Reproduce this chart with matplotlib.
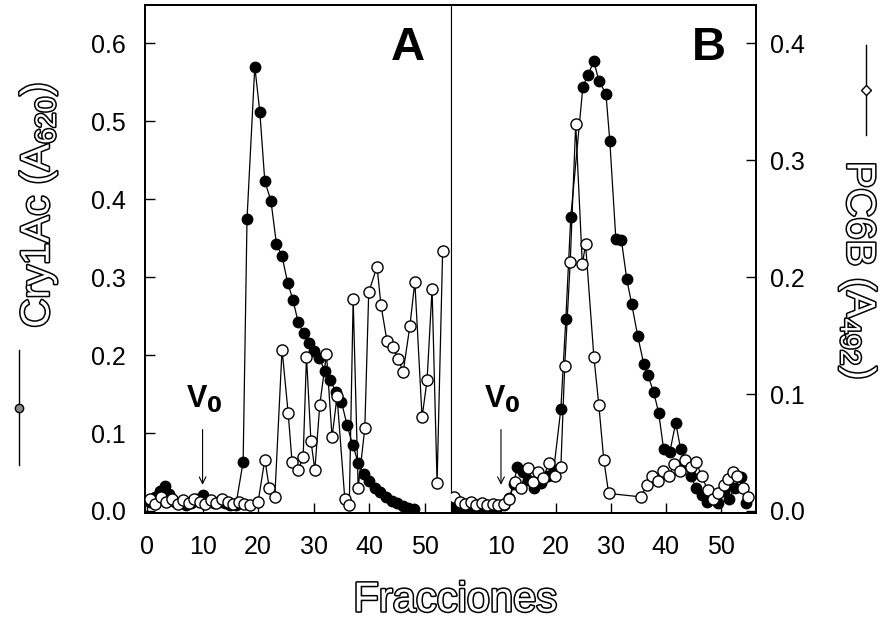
import matplotlib
matplotlib.use("Agg")
import matplotlib.pyplot as plt
import matplotlib.patheffects as pe
from matplotlib.lines import Line2D

plt.rcParams["font.family"] = ["Liberation Sans", "DejaVu Sans"]
plt.rcParams["mathtext.fontset"] = "custom"
plt.rcParams["mathtext.rm"] = "Liberation Sans"
plt.rcParams["mathtext.it"] = "Liberation Sans"

# ── Panel A: Cry1Ac (filled, left axis) ────────────────────────────────────
a_cry_x = [0.5, 1.5, 2.3, 3.2, 4.0, 5.0, 6.0, 7.0, 8.0, 9.0, 10.0, 11.0, 12.0,
           13.0, 14.0, 15.0, 16.0, 17.3, 18.0, 19.4, 20.3, 21.2, 22.3, 23.3,
           24.3, 25.3, 26.3, 27.2, 28.2, 29.2, 30.1, 31.0, 32.0, 33.0, 34.0,
           35.0, 36.0, 37.0, 38.0, 39.0, 40.0, 41.0, 42.0, 43.0, 44.0, 45.0,
           46.0, 47.0, 48.0]
a_cry_y = [0.012, 0.018, 0.025, 0.032, 0.022, 0.012, 0.010, 0.008, 0.010,
           0.015, 0.020, 0.013, 0.010, 0.012, 0.010, 0.008, 0.008, 0.063,
           0.375, 0.570, 0.512, 0.423, 0.398, 0.342, 0.327, 0.293, 0.270,
           0.242, 0.228, 0.216, 0.205, 0.196, 0.180, 0.168, 0.152, 0.140,
           0.110, 0.085, 0.062, 0.048, 0.038, 0.030, 0.024, 0.018, 0.013,
           0.010, 0.007, 0.004, 0.002]

# ── Panel A: PC6B (open, right axis) ───────────────────────────────────────
a_pc_x = [0.5, 1.5, 2.5, 3.5, 4.5, 5.5, 6.5, 7.5, 8.5, 9.5, 10.5, 11.5, 12.5,
          13.5, 14.5, 15.5, 16.5, 17.5, 18.5, 20.0, 21.2, 22.0, 23.0, 24.3,
          25.4, 26.1, 27.2, 28.1, 28.7, 29.5, 30.2, 31.1, 32.3, 33.3, 34.2,
          35.6, 36.4, 37.1, 38.0, 39.2, 39.9, 41.4, 42.1, 43.2, 44.3, 45.2,
          46.1, 47.3, 48.2, 49.5, 50.4, 51.3, 52.2, 53.2]
a_pc_y = [0.010, 0.006, 0.012, 0.008, 0.010, 0.006, 0.009, 0.007, 0.010,
          0.008, 0.006, 0.009, 0.007, 0.010, 0.008, 0.006, 0.008, 0.006,
          0.005, 0.008, 0.044, 0.020, 0.012, 0.138, 0.084, 0.042, 0.035,
          0.046, 0.132, 0.060, 0.035, 0.091, 0.134, 0.063, 0.098, 0.010,
          0.005, 0.181, 0.020, 0.071, 0.187, 0.209, 0.176, 0.145, 0.140,
          0.130, 0.119, 0.158, 0.196, 0.080, 0.112, 0.190, 0.024, 0.222]

# ── Panel B: Cry1Ac (filled, left axis) ────────────────────────────────────
b_cry_x = [1.5, 2.5, 3.5, 4.5, 5.5, 6.5, 7.5, 8.5, 9.5, 10.5, 11.5, 12.3,
           13.0, 14.0, 15.0, 16.0, 17.3, 18.5, 19.6, 20.9, 21.8, 22.7, 24.9,
           25.8, 26.9, 27.8, 29.1, 29.8, 30.9, 31.9, 32.9, 33.8, 34.9, 36.0,
           36.7, 37.8, 38.7, 39.6, 40.7, 41.8, 42.7, 43.5, 44.5, 45.5, 46.5,
           47.5, 48.5, 49.5, 50.5, 51.5, 52.5, 53.6, 54.5]
b_cry_y = [0.004, 0.006, 0.003, 0.005, 0.004, 0.006, 0.004, 0.005, 0.006,
           0.008, 0.017, 0.035, 0.057, 0.050, 0.040, 0.030, 0.036, 0.045,
           0.053, 0.131, 0.246, 0.377, 0.544, 0.559, 0.577, 0.552, 0.535,
           0.475, 0.349, 0.348, 0.297, 0.265, 0.224, 0.188, 0.175, 0.152,
           0.126, 0.079, 0.075, 0.113, 0.079, 0.060, 0.045, 0.030, 0.020,
           0.012, 0.018, 0.010, 0.025, 0.015, 0.030, 0.044, 0.010]

# ── Panel B: PC6B (open, right axis) ───────────────────────────────────────
b_pc_x = [1.5, 2.5, 3.5, 4.5, 5.5, 6.5, 7.5, 8.5, 9.5, 10.5, 11.5, 12.5,
          13.6, 14.9, 15.8, 16.7, 17.7, 18.7, 19.8, 20.9, 21.6, 22.6, 23.6,
          24.8, 25.4, 26.9, 27.8, 28.7, 29.6, 35.5, 36.5, 37.5, 38.5, 39.5,
          40.5, 41.5, 42.5, 43.5, 44.5, 45.5, 46.5, 47.6, 48.5, 49.5, 50.5,
          51.3, 52.2, 53.0, 54.0, 55.0]
b_pc_y = [0.012, 0.008, 0.006, 0.008, 0.005, 0.007, 0.005, 0.006, 0.005,
          0.006, 0.010, 0.025, 0.020, 0.037, 0.025, 0.033, 0.028, 0.041,
          0.030, 0.038, 0.124, 0.213, 0.331, 0.211, 0.228, 0.132, 0.091,
          0.044, 0.015, 0.012, 0.022, 0.030, 0.026, 0.034, 0.030, 0.040,
          0.034, 0.044, 0.038, 0.042, 0.030, 0.018, 0.010, 0.015, 0.022,
          0.027, 0.033, 0.030, 0.020, 0.012]

left_ticks = [0.0, 0.1, 0.2, 0.3, 0.4, 0.5, 0.6]
right_ticks = [0.0, 0.1, 0.2, 0.3, 0.4]
a_xticks = [0, 10, 20, 30, 40, 50]
b_xticks = [10, 20, 30, 40, 50]
v0_frac = 10

LEFT_LIM = (-0.0026, 0.649)
RIGHT_LIM = (LEFT_LIM[0] * 2 / 3, LEFT_LIM[1] * 2 / 3)

fig = plt.figure(figsize=(8.82, 6.24), dpi=100)
ax_a = fig.add_axes([0.1644, 0.1779, 0.3469, 0.8141])
ax_b = fig.add_axes([0.5113, 0.1779, 0.3458, 0.8141])
ax_a2 = ax_a.twinx()
ax_b2 = ax_b.twinx()

filled = dict(color="black", lw=0.9, marker="o", ms=7.5, mfc="black", mec="black")
hollow = dict(color="black", lw=0.9, marker="o", ms=8, mfc="white", mec="black", mew=1.0)

ax_a.plot(a_cry_x, a_cry_y, **filled, zorder=3)
ax_a2.plot(a_pc_x, a_pc_y, **hollow, zorder=4)
ax_b.plot(b_cry_x, b_cry_y, **filled, zorder=3)
ax_b2.plot(b_pc_x, b_pc_y, **hollow, zorder=4)

for ax in (ax_a, ax_a2):
    ax.set_xlim(-0.36, 54.7)
for ax in (ax_b, ax_b2):
    ax.set_xlim(0.9, 56.4)
for ax in (ax_a, ax_b):
    ax.set_ylim(*LEFT_LIM)
for ax in (ax_a2, ax_b2):
    ax.set_ylim(*RIGHT_LIM)

tick_kw = dict(direction="in", length=7, width=1.0, labelsize=18)
ax_a.set_yticks(left_ticks)
ax_a.set_yticklabels([f"{t:.1f}" for t in left_ticks])
ax_a.tick_params(axis="y", pad=14, **tick_kw)
ax_a.set_xticks(a_xticks)
ax_a.tick_params(axis="x", pad=16, **tick_kw)
ax_a2.set_yticks([])
ax_b.set_yticks([])
ax_b.set_xticks(b_xticks)
ax_b.tick_params(axis="x", pad=16, **tick_kw)
ax_b2.set_yticks(right_ticks)
ax_b2.set_yticklabels([f"{t:.1f}" for t in right_ticks])
ax_b2.tick_params(axis="y", pad=10, **tick_kw)

for ax in (ax_a, ax_a2, ax_b, ax_b2):
    for s in ax.spines.values():
        s.set_linewidth(1.3)
ax_a.spines["right"].set_linewidth(0.8)
ax_a2.spines["right"].set_linewidth(0.8)
ax_b.spines["left"].set_visible(False)
ax_b2.spines["left"].set_visible(False)

# panel letters
ax_a.text(0.86, 0.915, "A", transform=ax_a.transAxes, fontsize=34,
          fontweight="bold", ha="center", va="center")
ax_b.text(0.845, 0.915, "B", transform=ax_b.transAxes, fontsize=34,
          fontweight="bold", ha="center", va="center")

# V0 markers
for ax in (ax_a, ax_b):
    ax.text(v0_frac + 0.3, 0.143, r"V$_\mathbf{0}$", fontsize=22, fontweight="bold",
            ha="center", va="center")
    ax.annotate("", xy=(v0_frac, 0.030), xytext=(v0_frac, 0.108),
                arrowprops=dict(arrowstyle="->", lw=0.8, color="black",
                                mutation_scale=12))

# outlined axis titles
outline = [pe.withStroke(linewidth=2.2, foreground="black")]
fig.text(0.516, 0.038, "Fracciones", fontsize=30, color="white",
         ha="center", va="center", path_effects=outline)
fig.text(0.043, 0.671, r"Cry1Ac (A$_{620}$)", fontsize=29, color="white",
         rotation=90, ha="center", va="center", path_effects=outline)
fig.text(0.973, 0.567, r"PC6B (A$_{492}$)", fontsize=29, color="white",
         rotation=-90, ha="center", va="center", path_effects=outline)

# legend-style keys beside the axis titles
fig.add_artist(Line2D([0.021, 0.021], [1 - 465 / 624, 1 - 350 / 624],
                      transform=fig.transFigure, color="black", lw=1.0))
fig.add_artist(Line2D([0.021], [1 - 408 / 624], transform=fig.transFigure,
                      marker="o", ms=6, mfc="#888888", mec="black", lw=0))
fig.add_artist(Line2D([0.982, 0.982], [1 - 135 / 624, 1 - 45 / 624],
                      transform=fig.transFigure, color="black", lw=1.0))
fig.add_artist(Line2D([0.982], [1 - 90 / 624], transform=fig.transFigure,
                      marker="D", ms=5.5, mfc="white", mec="black", lw=0))

fig.savefig("out.png", dpi=100)
